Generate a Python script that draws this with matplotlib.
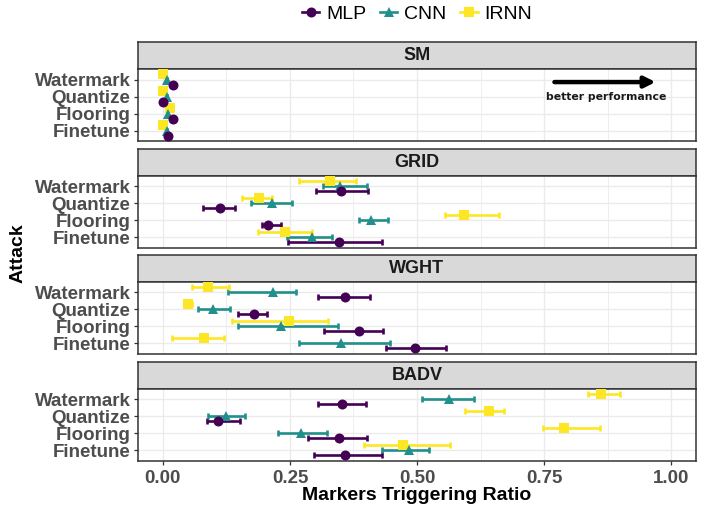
import numpy as np
import matplotlib
matplotlib.use("Agg")
from matplotlib import pyplot as plt
from matplotlib.lines import Line2D

plt.rcParams['font.family'] = ['Liberation Sans', 'DejaVu Sans']

attacks = ['Watermark', 'Quantize', 'Flooring', 'Finetune']
datasets = ['SM', 'GRID', 'WGHT', 'BADV']
models = ['MLP', 'CNN', 'IRNN']

# rows follow datasets, columns follow attacks
mlp_mean = [[0.020, 0.000, 0.020, 0.010],
            [0.351, 0.113, 0.207, 0.347],
            [0.359, 0.180, 0.385, 0.497],
            [0.353, 0.109, 0.347, 0.358]]
mlp_lo = [[0.020, 0.000, 0.020, 0.010],
          [0.301, 0.079, 0.195, 0.246],
          [0.305, 0.148, 0.317, 0.439],
          [0.306, 0.086, 0.286, 0.298]]
mlp_hi = [[0.020, 0.000, 0.020, 0.010],
          [0.403, 0.142, 0.232, 0.431],
          [0.407, 0.204, 0.434, 0.558],
          [0.400, 0.151, 0.402, 0.432]]

cnn_mean = [[0.009, 0.008, 0.010, 0.009],
            [0.349, 0.215, 0.410, 0.293],
            [0.217, 0.098, 0.232, 0.351],
            [0.562, 0.125, 0.271, 0.484]]
cnn_lo = [[0.009, 0.008, 0.010, 0.009],
          [0.316, 0.174, 0.385, 0.244],
          [0.128, 0.069, 0.147, 0.267],
          [0.509, 0.088, 0.227, 0.432]]
cnn_hi = [[0.009, 0.008, 0.010, 0.009],
          [0.401, 0.255, 0.443, 0.333],
          [0.261, 0.132, 0.345, 0.446],
          [0.612, 0.161, 0.322, 0.523]]

irnn_mean = [[0.000, 0.000, 0.013, 0.000],
             [0.328, 0.189, 0.593, 0.240],
             [0.088, 0.049, 0.248, 0.081],
             [0.862, 0.641, 0.789, 0.472]]
irnn_lo = [[0.000, 0.000, 0.013, 0.000],
           [0.268, 0.156, 0.555, 0.187],
           [0.058, 0.042, 0.135, 0.018],
           [0.837, 0.595, 0.747, 0.396]]
irnn_hi = [[0.000, 0.000, 0.013, 0.000],
           [0.380, 0.214, 0.662, 0.293],
           [0.131, 0.058, 0.324, 0.121],
           [0.900, 0.672, 0.861, 0.565]]

colors = {'MLP': '#440154', 'CNN': '#21908C', 'IRNN': '#FDE725'}
marks = {'MLP': 'o', 'CNN': '^', 'IRNN': 's'}
msize = {'MLP': 7.2, 'CNN': 7.8, 'IRNN': 6.8}
offset = {'MLP': -0.3, 'CNN': 0.0, 'IRNN': 0.3}
series = {'MLP': (mlp_mean, mlp_lo, mlp_hi),
          'CNN': (cnn_mean, cnn_lo, cnn_hi),
          'IRNN': (irnn_mean, irnn_lo, irnn_hi)}

W, H = 710, 508
fig = plt.figure(figsize=(W / 100, H / 100), dpi=100)

left, right = 137.5, 696.5
strip_tops = [42.3, 149.0, 255.0, 362.0]
strip_h = 27.0
panel_h = 71.5
ypos = np.array([4, 3, 2, 1])  # Watermark on top

for i, ds in enumerate(datasets):
    top = strip_tops[i]
    # strip
    sax = fig.add_axes([left / W, 1 - (top + strip_h) / H, (right - left) / W, strip_h / H])
    sax.set_facecolor('#D9D9D9')
    sax.set_xticks([])
    sax.set_yticks([])
    for sp in sax.spines.values():
        sp.set_color('#333333')
        sp.set_linewidth(1.1)
    sax.text(0.5, 0.5, ds, ha='center', va='center', fontsize=13, fontweight='bold',
             color='#1A1A1A', transform=sax.transAxes)

    ax = fig.add_axes([left / W, 1 - (top + strip_h + panel_h) / H, (right - left) / W, panel_h / H])
    ax.set_xlim(-0.05, 1.05)
    ax.set_ylim(0.4, 4.6)
    ax.set_xticks([0, 0.25, 0.5, 0.75, 1.0])
    ax.set_xticks([0.125, 0.375, 0.625, 0.875], minor=True)
    ax.set_yticks(ypos)
    ax.set_yticklabels(attacks)
    ax.grid(True, which='major', color='#EBEBEB', linewidth=1.0)
    ax.grid(True, which='minor', axis='x', color='#EBEBEB', linewidth=0.6)
    ax.set_axisbelow(True)
    for sp in ax.spines.values():
        sp.set_color('#333333')
        sp.set_linewidth(1.1)
    ax.tick_params(axis='both', which='major', length=3, color='#333333', width=0.9,
                   labelsize=13.5, labelcolor='#4D4D4D', pad=2)
    ax.tick_params(axis='both', which='minor', length=0)
    for lab in ax.get_yticklabels():
        lab.set_fontweight('bold')
    if i < 3:
        ax.set_xticklabels([])
        ax.tick_params(axis='x', which='major', length=0)
    else:
        ax.set_xticklabels(['0.00', '0.25', '0.50', '0.75', '1.00'])
        ax.tick_params(axis='x', pad=4)
        for lab in ax.get_xticklabels():
            lab.set_fontweight('bold')

    # error bars first, then points (MLP on top)
    for m in models:
        mean, lo, hi = series[m]
        y = ypos + offset[m]
        ax.errorbar(mean[i], y,
                    xerr=[np.array(mean[i]) - np.array(lo[i]), np.array(hi[i]) - np.array(mean[i])],
                    fmt='none', ecolor=colors[m], elinewidth=1.9, capsize=2.5, capthick=1.9, zorder=2)
    for m in ['IRNN', 'CNN', 'MLP']:
        mean = series[m][0]
        ax.plot(mean[i], ypos + offset[m], linestyle='none', marker=marks[m],
                markersize=msize[m], color=colors[m], markeredgewidth=0, zorder=3)

    if ds == 'SM':
        ax.annotate('', xy=(0.975, 3.85), xytext=(0.765, 3.85),
                    arrowprops=dict(arrowstyle='-|>', lw=3.2, color='black', mutation_scale=16))
        ax.text(0.872, 2.95, 'better performance', ha='center', va='center',
                fontsize=7.8, fontweight='bold', family='DejaVu Sans', color='#1A1A1A')

fig.text((left + right) / 2 / W, 1 - 495 / H, 'Markers Triggering Ratio', ha='center', va='center',
         fontsize=14, fontweight='bold', color='black')
fig.text(18 / W, 1 - 253 / H, 'Attack', ha='center', va='center', rotation=90,
         fontsize=14, fontweight='bold', color='black')

handles = [Line2D([], [], color=colors[m], marker=marks[m], markersize=msize[m],
                  markeredgewidth=0, linewidth=1.9) for m in models]
fig.legend(handles, models, loc='center', bbox_to_anchor=((left + right) / 2 / W, 1 - 14 / H),
           ncol=3, frameon=False, fontsize=14, handlelength=0.9, handletextpad=0.35,
           columnspacing=0.7)

fig.savefig('out.png', dpi=100)
